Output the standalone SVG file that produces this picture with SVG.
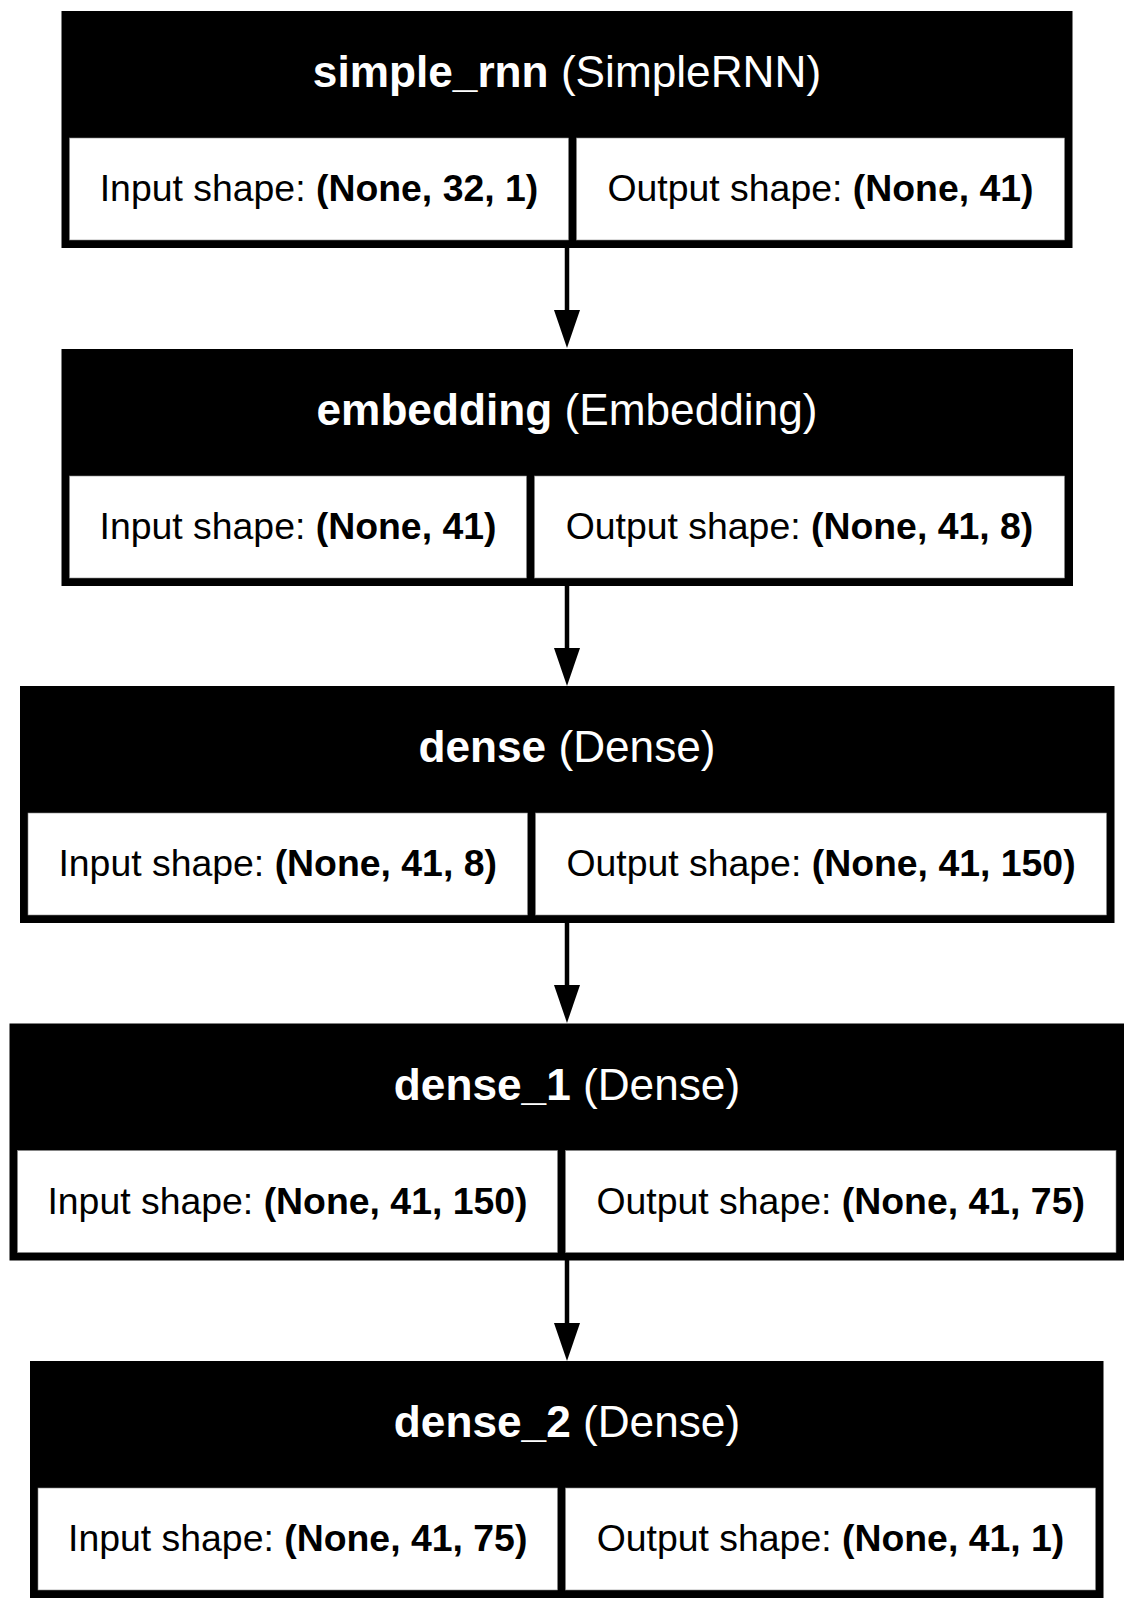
<svg xmlns="http://www.w3.org/2000/svg" width="1134" height="1610" viewBox="0 0 1134 1610">
<style>
.outer{fill:#000;}
.cell{fill:#fff;stroke:#888;stroke-width:0.6;}
.hdr{font-family:"Liberation Sans",Arial,sans-serif;font-size:44.2px;fill:#fff;text-anchor:middle;}
.body{font-family:"Liberation Sans",Arial,sans-serif;font-size:37.4px;fill:#000;text-anchor:middle;}
.b{font-weight:bold;}
.edge{stroke:#000;stroke-width:4.5;fill:none;}
.head{fill:#000;}
</style>
<rect width="1134" height="1610" fill="#fff"/>
<g id="connectors">
  <line class="edge" x1="567" y1="248" x2="567" y2="312"/>
  <polygon class="head" points="554,310 580,310 567,348"/>
  <line class="edge" x1="567" y1="586" x2="567" y2="650"/>
  <polygon class="head" points="554,648 580,648 567,686"/>
  <line class="edge" x1="567" y1="923" x2="567" y2="987"/>
  <polygon class="head" points="554,985 580,985 567,1023"/>
  <line class="edge" x1="567" y1="1260" x2="567" y2="1325"/>
  <polygon class="head" points="554,1323 580,1323 567,1361"/>
</g>
<g id="simple_rnn">
  <rect class="outer" x="61.5" y="11" width="1011" height="237"/>
  <text class="hdr" x="567" y="87"><tspan class="b">simple_rnn</tspan> (SimpleRNN)</text>
  <rect class="cell" x="69.5" y="138" width="499" height="102"/>
  <rect class="cell" x="576.5" y="138" width="488" height="102"/>
  <text class="body" x="319" y="201">Input shape: <tspan class="b">(None, 32, 1)</tspan></text>
  <text class="body" x="820.5" y="201">Output shape: <tspan class="b">(None, 41)</tspan></text>
</g>
<g id="embedding">
  <rect class="outer" x="61.5" y="349" width="1011.5" height="237"/>
  <text class="hdr" x="567" y="425"><tspan class="b">embedding</tspan> (Embedding)</text>
  <rect class="cell" x="69.5" y="476" width="457" height="102"/>
  <rect class="cell" x="534.5" y="476" width="530" height="102"/>
  <text class="body" x="298" y="539">Input shape: <tspan class="b">(None, 41)</tspan></text>
  <text class="body" x="799.5" y="539">Output shape: <tspan class="b">(None, 41, 8)</tspan></text>
</g>
<g id="dense">
  <rect class="outer" x="20" y="686" width="1094.5" height="237"/>
  <text class="hdr" x="567" y="762"><tspan class="b">dense</tspan> (Dense)</text>
  <rect class="cell" x="28" y="813" width="499.5" height="102"/>
  <rect class="cell" x="535.5" y="813" width="571" height="102"/>
  <text class="body" x="277.7" y="876">Input shape: <tspan class="b">(None, 41, 8)</tspan></text>
  <text class="body" x="821" y="876">Output shape: <tspan class="b">(None, 41, 150)</tspan></text>
</g>
<g id="dense_1">
  <rect class="outer" x="9.5" y="1023.5" width="1114.5" height="237"/>
  <text class="hdr" x="567" y="1099.5"><tspan class="b">dense_1</tspan> (Dense)</text>
  <rect class="cell" x="17.5" y="1150.5" width="540" height="102"/>
  <rect class="cell" x="565.5" y="1150.5" width="550.5" height="102"/>
  <text class="body" x="287.5" y="1213.5">Input shape: <tspan class="b">(None, 41, 150)</tspan></text>
  <text class="body" x="840.7" y="1213.5">Output shape: <tspan class="b">(None, 41, 75)</tspan></text>
</g>
<g id="dense_2">
  <rect class="outer" x="30" y="1361" width="1073.5" height="237"/>
  <text class="hdr" x="567" y="1437"><tspan class="b">dense_2</tspan> (Dense)</text>
  <rect class="cell" x="38" y="1488" width="519.5" height="102"/>
  <rect class="cell" x="565.5" y="1488" width="530" height="102"/>
  <text class="body" x="297.7" y="1551">Input shape: <tspan class="b">(None, 41, 75)</tspan></text>
  <text class="body" x="830.5" y="1551">Output shape: <tspan class="b">(None, 41, 1)</tspan></text>
</g>
</svg>
